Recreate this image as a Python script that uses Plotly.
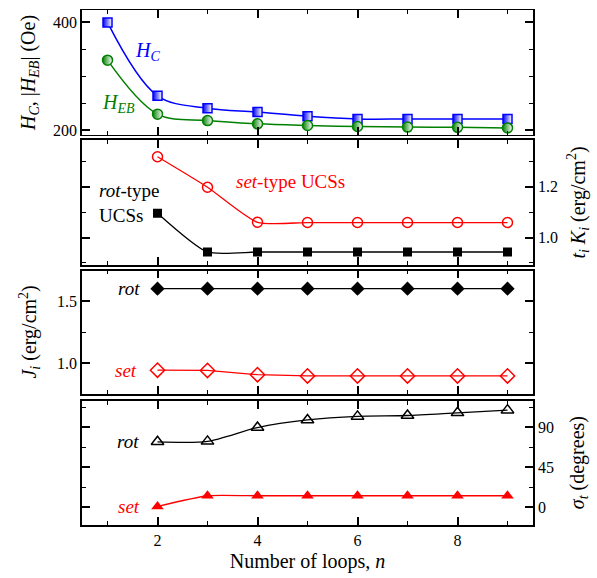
import plotly.graph_objects as go

# ---- data ----
n_hc = [1, 2, 3, 4, 5, 6, 7, 8, 9]
hc = [400, 264, 241, 234, 226, 221, 221, 221, 221]
heb = [330, 230, 218, 212, 209, 207, 206, 205.5, 204.5]

n_k = [2, 3, 4, 5, 6, 7, 8, 9]
k_set = [1.318, 1.198, 1.060, 1.059, 1.059, 1.059, 1.059, 1.059]
k_rot = [1.096, 0.943, 0.943, 0.943, 0.943, 0.943, 0.943, 0.943]

j_rot = [1.6, 1.6, 1.6, 1.6, 1.6, 1.6, 1.6, 1.6]
j_set = [0.946, 0.944, 0.91, 0.90, 0.90, 0.90, 0.90, 0.90]

s_rot = [73.5, 74, 89.5, 98, 102, 103, 106, 109]
s_set = [1, 13, 13, 13, 13, 13, 13, 13]

FONT = "Liberation Serif, Times New Roman, serif"
BLUE = "#0000FF"
GREEN = "#008000"
RED = "#FF0000"
BLACK = "#000000"

fig = go.Figure()

# panel 1
fig.add_trace(go.Scatter(x=n_hc, y=hc, mode="lines+markers", xaxis="x", yaxis="y",
                         line=dict(color=BLUE, width=1.5, shape="spline", smoothing=1),
                         marker=dict(symbol="square", size=9, color=BLUE,
                                     gradient=dict(type="horizontal", color="white"),
                                     line=dict(color=BLUE, width=1.5))))
fig.add_trace(go.Scatter(x=n_hc, y=heb, mode="lines+markers", xaxis="x", yaxis="y",
                         line=dict(color=GREEN, width=1.5, shape="spline", smoothing=1),
                         marker=dict(symbol="circle", size=10, color=GREEN,
                                     gradient=dict(type="horizontal", color="white"),
                                     line=dict(color=GREEN, width=1.5))))
# panel 2
fig.add_trace(go.Scatter(x=n_k, y=k_set, mode="lines+markers", xaxis="x2", yaxis="y2",
                         line=dict(color=RED, width=1.3, shape="spline", smoothing=0.6),
                         marker=dict(symbol="circle-open", size=10, color=RED, line=dict(width=1.5))))
fig.add_trace(go.Scatter(x=n_k, y=k_rot, mode="lines+markers", xaxis="x2", yaxis="y2",
                         line=dict(color=BLACK, width=1.3, shape="spline", smoothing=0.6),
                         marker=dict(symbol="square", size=9, color=BLACK)))
# panel 3
fig.add_trace(go.Scatter(x=n_k, y=j_rot, mode="lines+markers", xaxis="x3", yaxis="y3",
                         line=dict(color=BLACK, width=1.3),
                         marker=dict(symbol="diamond", size=11, color=BLACK)))
fig.add_trace(go.Scatter(x=n_k, y=j_set, mode="lines+markers", xaxis="x3", yaxis="y3",
                         line=dict(color=RED, width=1.3),
                         marker=dict(symbol="diamond-open", size=11, color=RED, line=dict(width=1.5))))
# panel 4
fig.add_trace(go.Scatter(x=n_k, y=s_rot, mode="lines+markers", xaxis="x4", yaxis="y4",
                         line=dict(color=BLACK, width=1.3, shape="spline", smoothing=0.7),
                         marker=dict(symbol="triangle-up-open", size=11, color=BLACK, line=dict(width=1.5))))
fig.add_trace(go.Scatter(x=n_k, y=s_set, mode="lines+markers", xaxis="x4", yaxis="y4",
                         line=dict(color=RED, width=1.3, shape="spline", smoothing=0.5),
                         marker=dict(symbol="triangle-up", size=11, color=RED)))

XR = [0.49, 9.51]


def xaxis(show_labels, anchor, lw=1.5):
    d = dict(range=XR, anchor=anchor, domain=[0, 1], tick0=0, dtick=2,
             ticks="inside", ticklen=8, tickwidth=1.5, tickcolor="black",
             mirror="ticks", showline=True, linecolor="black", linewidth=lw,
             showgrid=False, zeroline=False, showticklabels=show_labels,
             tickfont=dict(family=FONT, size=16, color="black"),
             minor=dict(ticks="inside", ticklen=4, dtick=1, tick0=0, tickcolor="black", tickwidth=1))
    if anchor != "y":
        d["matches"] = "x"
    return d


def yaxis(domain, rng, tickvals, minor_dtick, side, fmt):
    return dict(domain=domain, range=rng, side=side, tickvals=tickvals, tickformat=fmt,
                ticks="inside", ticklen=8, tickwidth=1.5, tickcolor="black",
                mirror="ticks", showline=True, linecolor="black", linewidth=1.5,
                showgrid=False, zeroline=False,
                tickfont=dict(family=FONT, size=16, color="black"),
                minor=dict(ticks="inside", ticklen=4, dtick=minor_dtick, tick0=0,
                           tickcolor="black", tickwidth=1))


fig.update_layout(
    width=597, height=578,
    margin=dict(l=82, r=64, t=9, b=51),
    paper_bgcolor="white", plot_bgcolor="white",
    showlegend=False,
    font=dict(family=FONT, size=16, color="black"),
    xaxis=xaxis(False, "y", 1.2),
    xaxis2=xaxis(False, "y2"),
    xaxis3=xaxis(False, "y3"),
    xaxis4=xaxis(True, "y4"),
    yaxis=yaxis([0.758, 1.0], [192, 423], [200, 400], 50, "left", ""),
    yaxis2=yaxis([0.5055, 0.747], [0.893, 1.383], [1.0, 1.2], 0.1, "right", ".1f"),
    yaxis3=yaxis([0.2544, 0.4939], [0.755, 1.745], [1.0, 1.5], 0.25, "left", ".1f"),
    yaxis4=yaxis([0.0, 0.2403], [-19.8, 119], [0, 45, 90], 22.5, "right", ""),
)
fig.layout.xaxis4.title = dict(text="Number of loops, <i>n</i>", font=dict(family=FONT, size=20), standoff=6)

ann = [
    dict(xref="x", yref="y", x=1.51, y=347, text="<i>H</i><sub><i>C</i></sub>",
         font=dict(color=BLUE, size=20), xanchor="left"),
    dict(xref="x", yref="y", x=0.85, y=250, text="<i>H</i><sub><i>EB</i></sub>",
         font=dict(color=GREEN, size=20), xanchor="left"),
    dict(xref="x2", yref="y2", x=0.79, y=1.135, text="<i>rot</i>-type<br>UCSs",
         font=dict(color=BLACK, size=19), xanchor="left", align="left"),
    dict(xref="x2", yref="y2", x=4.65, y=1.22, text="<i>set</i>-type UCSs",
         font=dict(color=RED, size=19)),
    dict(xref="x3", yref="y3", x=1.69, y=1.6, text="<i>rot</i>",
         font=dict(color=BLACK, size=19), xanchor="right"),
    dict(xref="x3", yref="y3", x=1.63, y=0.946, text="<i>set</i>",
         font=dict(color=RED, size=19), xanchor="right"),
    dict(xref="x4", yref="y4", x=1.67, y=74, text="<i>rot</i>",
         font=dict(color=BLACK, size=19), xanchor="right"),
    dict(xref="x4", yref="y4", x=1.68, y=1, text="<i>set</i>",
         font=dict(color=RED, size=19), xanchor="right"),
    # axis titles
    dict(xref="paper", yref="paper", x=-0.115, y=0.878, xanchor="center", yanchor="middle",
         text="<i>H</i><sub><i>C</i></sub>, |<i>H</i><sub><i>EB</i></sub>| (Oe)", textangle=-90,
         font=dict(color=BLACK, size=20)),
    dict(xref="paper", yref="paper", x=-0.115, y=0.374, xanchor="center", yanchor="middle",
         text="<i>J</i><sub><i>i</i></sub> (erg/cm<sup>2</sup>)", textangle=-90,
         font=dict(color=BLACK, size=20)),
    dict(xref="paper", yref="paper", x=1.0998, y=0.626, xanchor="center", yanchor="middle",
         text="<i>t</i><sub><i>i</i></sub> <i>K</i><sub><i>i</i></sub> (erg/cm<sup>2</sup>)", textangle=-90,
         font=dict(color=BLACK, size=20)),
    dict(xref="paper", yref="paper", x=1.0998, y=0.12, xanchor="center", yanchor="middle",
         text="<i>σ</i><sub><i>t</i></sub> (degrees)", textangle=-90,
         font=dict(color=BLACK, size=20)),
]
for a in ann:
    a.setdefault("showarrow", False)
fig.update_layout(annotations=ann)

fig.write_html("out.html", config={"displayModeBar": False},
               post_script="document.body.style.margin='0';")
